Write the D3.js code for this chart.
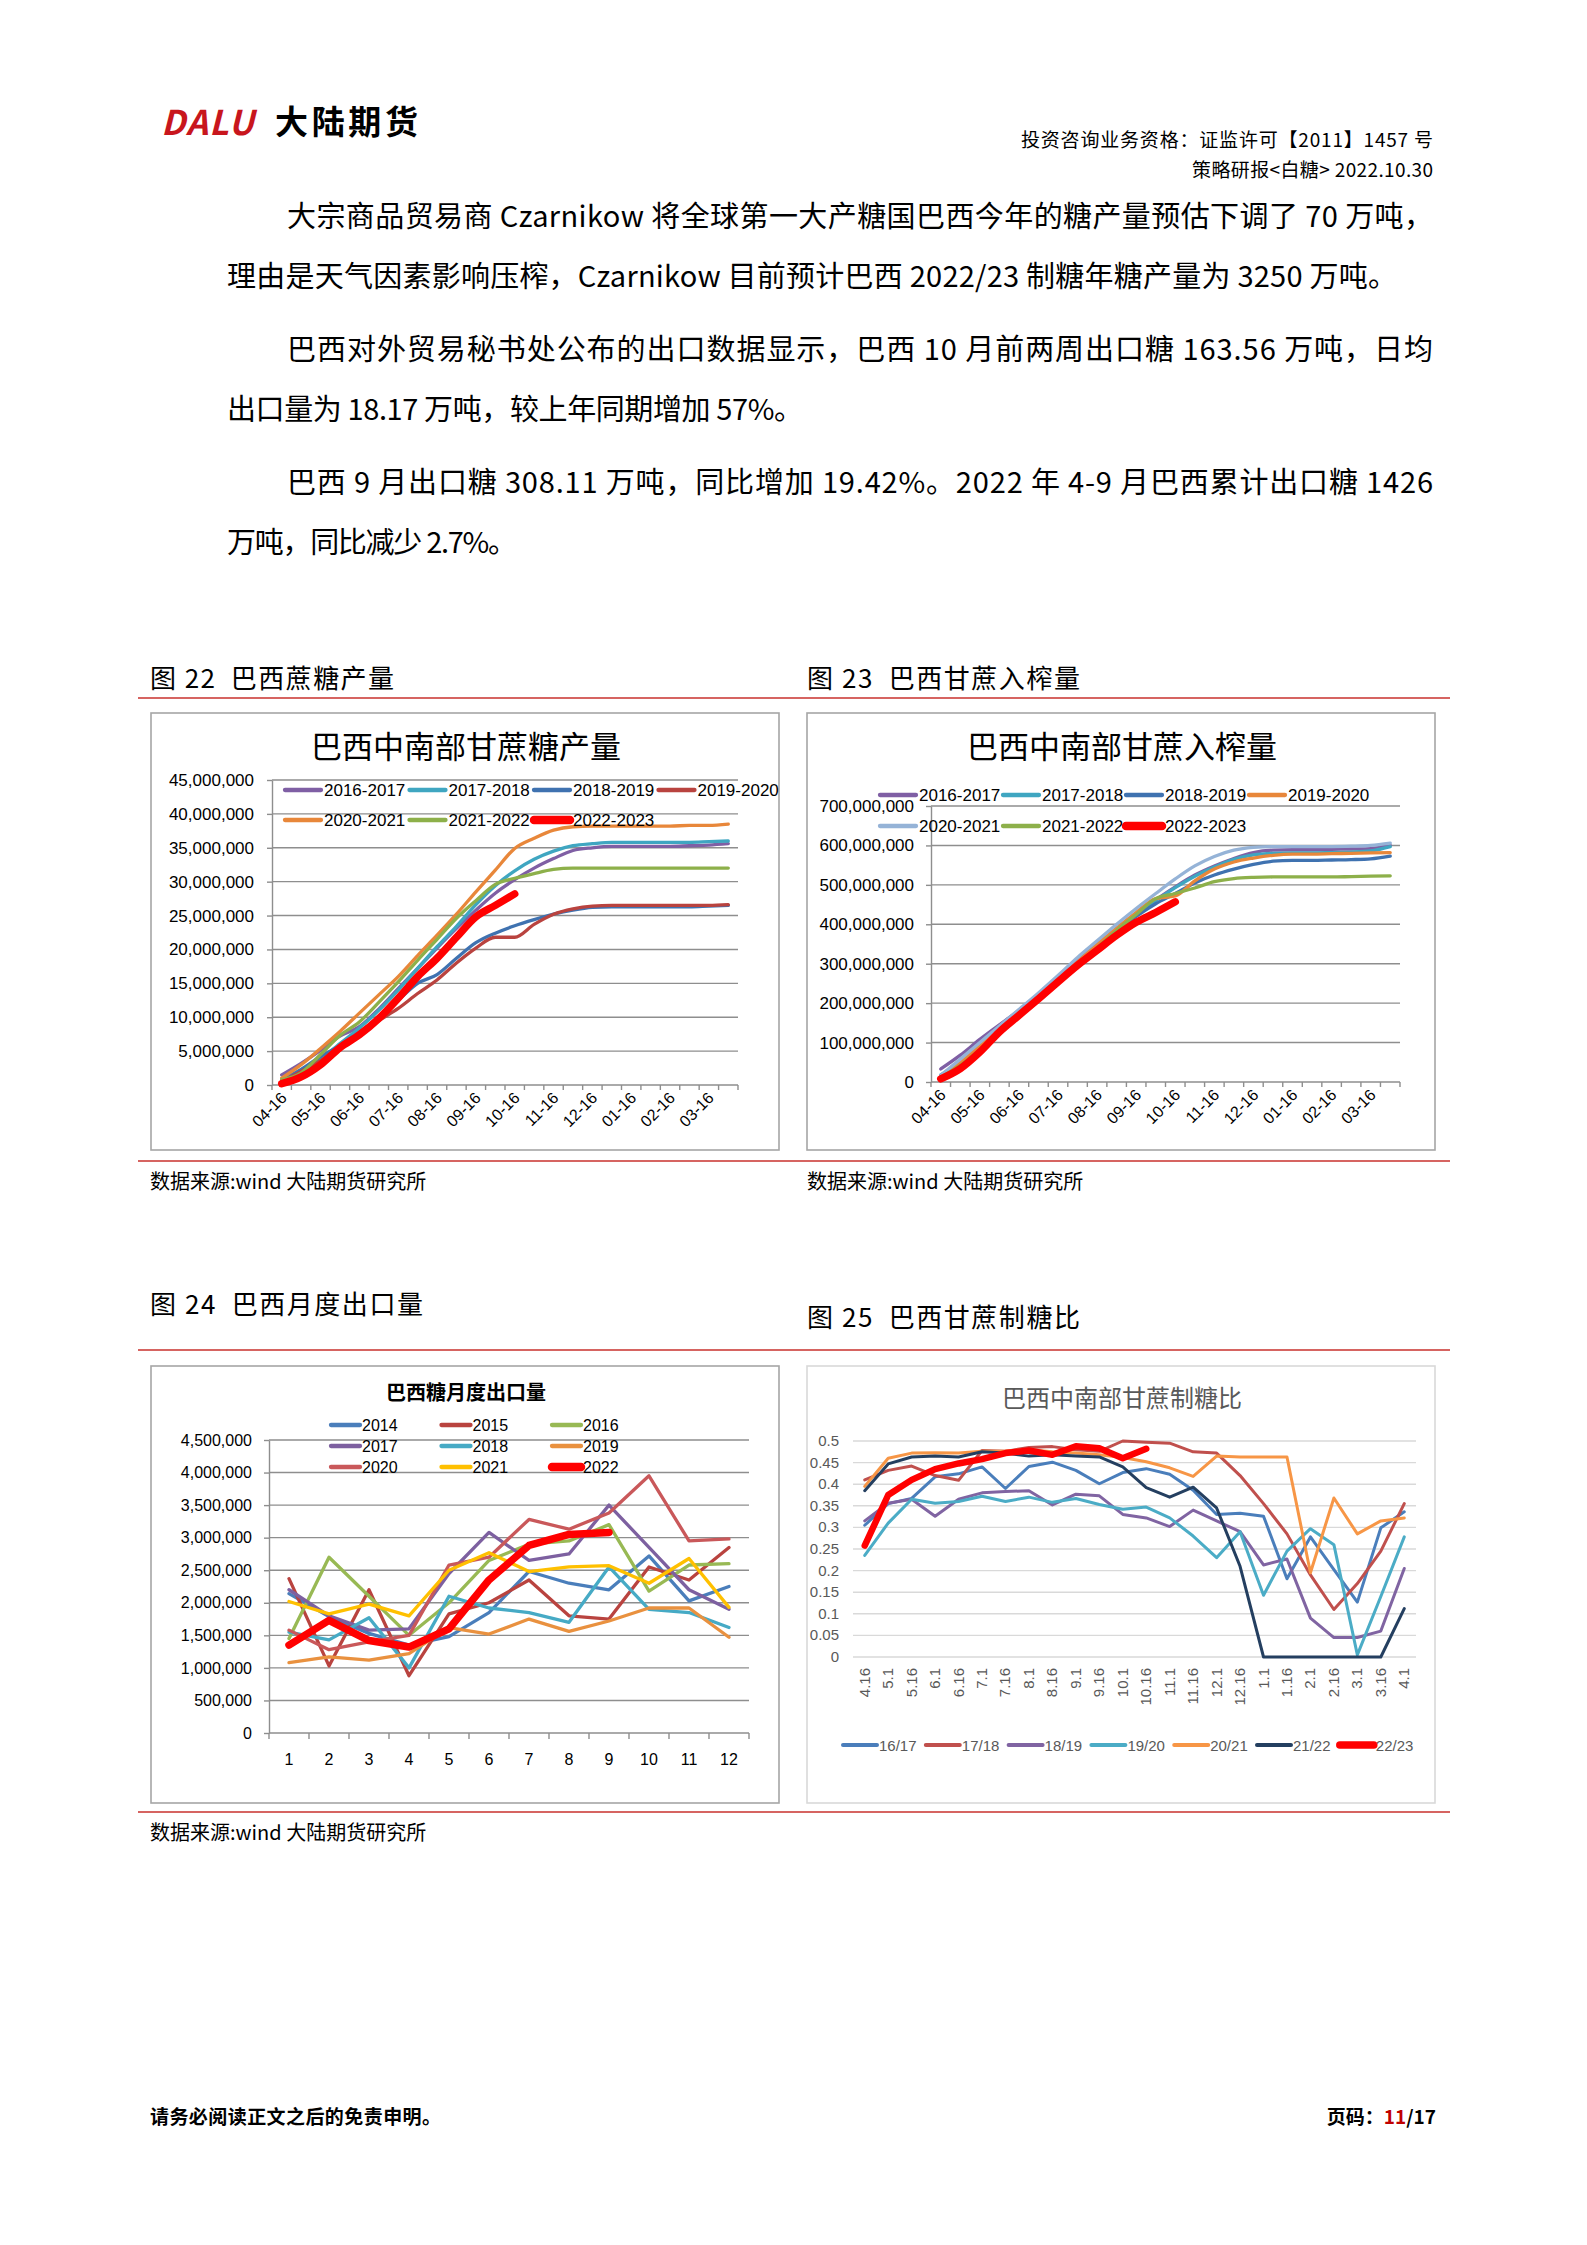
<!DOCTYPE html>
<html lang="zh">
<head>
<meta charset="utf-8">
<title>白糖策略研报 第11页</title>
<script src="https://d3js.org/d3.v7.min.js"></script>
<style>
	body { margin: 0; background: #fff; }
	svg text { font-family: "Noto Sans CJK SC", "Liberation Sans", sans-serif; }
	svg text.num { font-family: "Liberation Sans", "Noto Sans CJK SC", sans-serif; }
</style>
</head>
<body>
<script>
// ---------- data ----------

// half-month categories used by fig 22 / 23
var halfMonths = ["04-16","05-01","05-16","06-01","06-16","07-01","07-16","08-01","08-16","09-01","09-16","10-01",
	"10-16","11-01","11-16","12-01","12-16","01-01","01-16","02-01","02-16","03-01","03-16","04-01"];
var seasons = ["2016-2017","2017-2018","2018-2019","2019-2020","2020-2021","2021-2022","2022-2023"];

// fig 22: cumulative sugar output, million tonnes
var sugar1617 = [1.5, 3.2, 5.1, 7.2, 8.6, 11.2, 14.2, 17.2, 20.2, 23.1, 25.8, 28.3, 30.3, 32.0, 33.4, 34.6, 35.0, 35.2, 35.2, 35.2, 35.2, 35.3, 35.4, 35.6];
var sugar1718 = [0.8, 2.0, 3.9, 6.1, 8.4, 11.0, 14.0, 17.2, 20.4, 23.4, 26.6, 29.4, 31.6, 33.3, 34.5, 35.3, 35.6, 35.8, 35.8, 35.8, 35.8, 35.8, 35.9, 36.0];
var sugar1819 = [0.8, 2.3, 4.2, 5.8, 7.8, 10.0, 12.5, 15.0, 16.3, 18.7, 21.0, 22.4, 23.5, 24.4, 25.2, 25.8, 26.2, 26.3, 26.3, 26.3, 26.3, 26.3, 26.4, 26.5];
var sugar1920 = [0.5, 2.0, 3.6, 5.5, 7.5, 9.5, 11.3, 13.5, 15.5, 18.0, 20.2, 21.8, 21.8, 23.7, 25.2, 26.0, 26.4, 26.5, 26.5, 26.5, 26.5, 26.5, 26.5, 26.6];
var sugar2021 = [1.0, 3.0, 5.4, 7.9, 10.6, 13.3, 16.0, 19.1, 22.1, 25.2, 28.5, 31.7, 34.9, 36.4, 37.6, 38.1, 38.2, 38.2, 38.2, 38.2, 38.2, 38.3, 38.3, 38.5];
var sugar2122 = [0.8, 1.8, 4.5, 7.3, 9.3, 12.2, 15.2, 18.4, 21.5, 24.6, 27.2, 29.6, 30.5, 31.2, 31.8, 32.0, 32.0, 32.0, 32.0, 32.0, 32.0, 32.0, 32.0, 32.0];
var sugar2223 = [0.2, 1.2, 3.0, 5.5, 7.4, 9.8, 12.8, 16.0, 18.7, 21.8, 24.8, 26.5, 28.2];

// fig 23: cumulative cane crush, million tonnes
var cane1617 = [33, 68, 108, 145, 182, 222, 265, 308, 350, 390, 428, 462, 495, 525, 548, 567, 582, 588, 589, 589, 590, 591, 592, 600];
var cane1718 = [18, 52, 92, 132, 172, 214, 257, 302, 345, 387, 425, 460, 493, 522, 545, 565, 576, 580, 581, 581, 582, 583, 586, 597];
var cane1819 = [15, 48, 88, 128, 168, 210, 253, 298, 340, 382, 420, 452, 478, 505, 525, 540, 552, 560, 562, 562, 563, 564, 566, 573];
var cane1920 = [15, 50, 92, 133, 174, 216, 260, 305, 348, 390, 430, 465, 472, 510, 540, 558, 568, 575, 578, 578, 579, 580, 581, 582];
var cane2021 = [17, 58, 100, 142, 184, 226, 270, 316, 358, 400, 440, 478, 515, 548, 572, 588, 595, 597, 597, 597, 597, 598, 600, 606];
var cane2122 = [12, 42, 82, 124, 165, 206, 250, 295, 340, 385, 425, 465, 478, 492, 508, 516, 519, 520, 520, 520, 520, 521, 522, 523];
var cane2223 = [8, 34, 76, 127, 169, 211, 254, 296, 334, 372, 405, 430, 457];

// fig 24: monthly exports, million tonnes
var months = ["1","2","3","4","5","6","7","8","9","10","11","12"];
var exportYears = ["2014","2015","2016","2017","2018","2019","2020","2021","2022"];
var exp2014 = [2.14, 1.79, 1.53, 1.35, 1.48, 1.85, 2.48, 2.30, 2.20, 2.72, 2.03, 2.25];
var exp2015 = [2.37, 1.03, 2.20, 0.88, 1.83, 2.00, 2.35, 1.80, 1.75, 2.55, 2.35, 2.85];
var exp2016 = [1.45, 2.70, 2.10, 1.50, 2.00, 2.65, 2.90, 2.95, 3.20, 2.18, 2.58, 2.60];
var exp2017 = [2.20, 1.80, 1.58, 1.60, 2.45, 3.08, 2.65, 2.75, 3.50, 2.85, 2.20, 1.90];
var exp2018 = [1.55, 1.43, 1.77, 1.00, 2.10, 1.92, 1.85, 1.70, 2.55, 1.90, 1.85, 1.62];
var exp2019 = [1.08, 1.17, 1.12, 1.22, 1.62, 1.52, 1.75, 1.56, 1.72, 1.92, 1.92, 1.47];
var exp2020 = [1.58, 1.28, 1.40, 1.50, 2.58, 2.70, 3.28, 3.13, 3.38, 3.95, 2.95, 2.98];
var exp2021 = [2.02, 1.83, 1.98, 1.80, 2.50, 2.77, 2.48, 2.55, 2.57, 2.30, 2.68, 1.93];
var exp2022 = [1.35, 1.73, 1.42, 1.32, 1.60, 2.35, 2.88, 3.05, 3.08];

// fig 25: sugar mix ratio
var mixDates = ["4.16","5.1","5.16","6.1","6.16","7.1","7.16","8.1","8.16","9.1","9.16","10.1",
	"10.16","11.1","11.16","12.1","12.16","1.1","1.16","2.1","2.16","3.1","3.16","4.1"];
var mixSeasons = ["16/17","17/18","18/19","19/20","20/21","21/22","22/23"];
var mix1617 = [0.305, 0.355, 0.367, 0.417, 0.424, 0.440, 0.390, 0.441, 0.451, 0.432, 0.401, 0.427, 0.436, 0.423, 0.386, 0.330, 0.333, 0.326, 0.181, 0.278, 0.202, 0.127, 0.299, 0.336];
var mix1718 = [0.410, 0.432, 0.442, 0.420, 0.409, 0.478, 0.476, 0.485, 0.487, 0.480, 0.476, 0.500, 0.497, 0.495, 0.475, 0.472, 0.420, 0.355, 0.285, 0.190, 0.110, 0.170, 0.245, 0.355];
var mix1819 = [0.315, 0.356, 0.365, 0.326, 0.365, 0.380, 0.383, 0.385, 0.352, 0.377, 0.373, 0.330, 0.322, 0.302, 0.340, 0.315, 0.290, 0.213, 0.227, 0.090, 0.045, 0.045, 0.060, 0.205];
var mix1920 = [0.235, 0.310, 0.365, 0.356, 0.360, 0.372, 0.360, 0.370, 0.358, 0.367, 0.353, 0.342, 0.347, 0.322, 0.280, 0.230, 0.290, 0.143, 0.245, 0.297, 0.260, 0.005, 0.140, 0.278];
var mix2021 = [0.395, 0.460, 0.472, 0.473, 0.472, 0.476, 0.477, 0.480, 0.475, 0.472, 0.468, 0.462, 0.452, 0.438, 0.418, 0.465, 0.463, 0.463, 0.463, 0.195, 0.368, 0.285, 0.315, 0.322];
var mix2122 = [0.385, 0.447, 0.463, 0.465, 0.463, 0.475, 0.472, 0.465, 0.468, 0.465, 0.463, 0.440, 0.392, 0.370, 0.393, 0.345, 0.210, 0, 0, 0, 0, 0, 0, 0.112];
var mix2223 = [0.258, 0.375, 0.410, 0.435, 0.448, 0.458, 0.472, 0.478, 0.468, 0.488, 0.483, 0.460, 0.482];

// ---------- page ----------
var width = 1587;
var height = 2245;
var svg = d3.select("body").append("svg")
	.attr("width", width)
	.attr("height", height);

function txt(x, y, s, size, opts) {
	opts = opts || {};
	var t = svg.append("text")
		.attr("x", x).attr("y", y)
		.attr("font-size", size)
		.attr("fill", opts.fill || "#000")
		.attr("text-anchor", opts.anchor || "start")
		.style("white-space", "pre")
		.text(s);
	if (opts.weight) t.attr("font-weight", opts.weight);
	if (opts.len) t.attr("textLength", opts.len).attr("lengthAdjust", "spacing");
	return t;
}

// logo
txt(161, 135, "DALU", 34, {fill: "#c8161d", weight: "bold", len: 93}).attr("font-style", "italic")
	.attr("font-family", "Liberation Sans");
txt(275, 134, "大陆期货", 33, {weight: "bold", len: 143});

// header right
txt(1433, 147, "投资咨询业务资格：证监许可【2011】1457 号", 19, {anchor: "end", len: 412});
txt(1433, 177, "策略研报<白糖> 2022.10.30", 19, {anchor: "end", len: 241});

// body text
txt(287, 227, "大宗商品贸易商 Czarnikow 将全球第一大产糖国巴西今年的糖产量预估下调了 70 万吨，", 29, {len: 1146});
txt(227, 287, "理由是天气因素影响压榨，Czarnikow 目前预计巴西 2022/23 制糖年糖产量为 3250 万吨。", 29, {len: 1170});
txt(287, 360, "巴西对外贸易秘书处公布的出口数据显示，巴西 10 月前两周出口糖 163.56 万吨，日均", 29, {len: 1146});
txt(227, 420, "出口量为 18.17 万吨，较上年同期增加 57%。", 29, {len: 576});
txt(287, 493, "巴西 9 月出口糖 308.11 万吨，同比增加 19.42%。2022 年 4-9 月巴西累计出口糖 1426", 29, {len: 1146});
txt(227, 553, "万吨，同比减少 2.7%。", 29, {len: 290});

// figure headings, separators, sources
txt(150, 688, "图 22  巴西蔗糖产量", 26, {len: 244});
txt(807, 688, "图 23  巴西甘蔗入榨量", 26, {len: 273});
txt(150, 1314, "图 24  巴西月度出口量", 26, {len: 273});
txt(807, 1327, "图 25  巴西甘蔗制糖比", 26, {len: 273});

[698, 1161, 1350, 1812].forEach(function(yy) {
	svg.append("line").attr("x1", 138).attr("x2", 1450).attr("y1", yy).attr("y2", yy)
		.attr("stroke", "#c9302c").attr("stroke-width", 1.6);
});
txt(150, 1189, "数据来源:wind 大陆期货研究所", 20);
txt(807, 1189, "数据来源:wind 大陆期货研究所", 20);
txt(150, 1840, "数据来源:wind 大陆期货研究所", 20);

// chart frames
function frame(x, y, w, h, c) {
	svg.append("rect").attr("x", x).attr("y", y).attr("width", w).attr("height", h)
		.attr("fill", "#fff").attr("stroke", c).attr("stroke-width", 1.6);
}
frame(151, 713, 628, 437, "#a6a6a6");
frame(807, 713, 628, 437, "#a6a6a6");
frame(151, 1366, 628, 437, "#a6a6a6");
frame(807, 1366, 628, 437, "#d9d9d9");

// footer
txt(150, 2124, "请务必阅读正文之后的免责申明。", 19, {weight: "bold", len: 291});
var pg = txt(1436, 2124, "页码：", 19, {anchor: "end", weight: "bold"});
pg.append("tspan").attr("fill", "#c00000").text("11");
pg.append("tspan").text("/17");

var bigNum = function(d) { return d3.format(",")(Math.round(d * 1e6)); };

// ---------- fig 22 / 23: cumulative curves ----------
function cumChart(o) {
	var g = svg.append("g");
	var x = d3.scaleBand().domain(halfMonths).range([o.left, o.right]);
	var y = d3.scaleLinear().domain([0, o.max]).range([o.bottom, o.top]);
	var ticks = d3.range(0, o.max + o.step / 2, o.step);
	var cx = function(i) { return x(halfMonths[i]) + x.bandwidth() / 2; };

	g.append("text").attr("x", o.titleX).attr("y", o.titleY)
		.attr("text-anchor", "middle").attr("font-size", 31).text(o.title);

	g.selectAll(".grid").data(ticks.slice(1)).enter().append("line")
		.attr("x1", o.left).attr("x2", o.right)
		.attr("y1", y).attr("y2", y)
		.attr("stroke", "#8e8e8e").attr("stroke-width", 1.4);

	var ya = g.append("g").attr("transform", "translate(" + o.left + ",0)")
		.call(d3.axisLeft(y).tickValues(ticks).tickSize(5).tickSizeOuter(0).tickPadding(o.pad).tickFormat(bigNum));
	ya.select(".domain").attr("stroke", "#8e8e8e").attr("stroke-width", 1.4);
	ya.selectAll(".tick line").attr("stroke", "#8e8e8e").attr("stroke-width", 1.4);
	ya.selectAll(".tick text").attr("class", "num").attr("font-size", 17).attr("fill", "#000");

	// category axis
	g.append("line").attr("x1", o.left).attr("x2", o.right)
		.attr("y1", y(0)).attr("y2", y(0))
		.attr("stroke", "#8e8e8e").attr("stroke-width", 1.4);
	g.selectAll(".xt").data(d3.range(halfMonths.length + 1)).enter().append("line")
		.attr("x1", function(i) { return o.left + i * x.step(); })
		.attr("x2", function(i) { return o.left + i * x.step(); })
		.attr("y1", y(0)).attr("y2", y(0) + 5)
		.attr("stroke", "#8e8e8e").attr("stroke-width", 1.4);
	g.selectAll(".xl").data(halfMonths.filter(function(d, i) { return i % 2 === 0; })).enter().append("text")
		.attr("class", "num")
		.attr("font-size", 16)
		.attr("text-anchor", "end")
		.attr("transform", function(d) {
			return "translate(" + (x(d) + x.bandwidth() / 2 + 6) + "," + (y(0) + 14) + ") rotate(-45)";
		})
		.text(function(d) { return d; });

	var line = d3.line()
		.x(function(d, i) { return cx(i); })
		.y(function(d) { return y(d); })
		.curve(d3.curveMonotoneX);

	o.series.forEach(function(s) {
		g.append("path").attr("d", line(s.values))
			.attr("fill", "none").attr("stroke", s.color)
			.attr("stroke-width", s.w).attr("stroke-linecap", "round").attr("stroke-linejoin", "round");
	});

	// legend, four per row
	o.series.forEach(function(s, i) {
		var lx = o.legX + (i % 4) * o.legDX;
		var ly = o.legY + Math.floor(i / 4) * o.legDY;
		g.append("line").attr("x1", lx).attr("x2", lx + 36).attr("y1", ly).attr("y2", ly)
			.attr("stroke", s.color).attr("stroke-width", s.w + 1).attr("stroke-linecap", "round");
		g.append("text").attr("class", "num").attr("x", lx + 39).attr("y", ly + 6)
			.attr("font-size", 17).text(s.name);
	});
}

cumChart({
	title: "巴西中南部甘蔗糖产量", titleX: 466, titleY: 758,
	left: 272, right: 738, top: 780, bottom: 1085, max: 45, step: 5, pad: 13,
	legX: 285, legY: 790, legDX: 124.5, legDY: 30,
	series: [
		{name: seasons[0], values: sugar1617, color: "#7f5fa4", w: 3.3},
		{name: seasons[1], values: sugar1718, color: "#3fa6c1", w: 3.3},
		{name: seasons[2], values: sugar1819, color: "#3f72b0", w: 3.3},
		{name: seasons[3], values: sugar1920, color: "#b9433f", w: 3.3},
		{name: seasons[4], values: sugar2021, color: "#e8873a", w: 3.3},
		{name: seasons[5], values: sugar2122, color: "#8db04a", w: 3.3},
		{name: seasons[6], values: sugar2223, color: "#ff0000", w: 7.5}
	]
});

cumChart({
	title: "巴西中南部甘蔗入榨量", titleX: 1122, titleY: 758,
	left: 931, right: 1400, top: 806, bottom: 1082, max: 700, step: 100, pad: 12,
	legX: 880, legY: 795, legDX: 123, legDY: 31,
	series: [
		{name: seasons[0], values: cane1617, color: "#7f5fa4", w: 3.3},
		{name: seasons[1], values: cane1718, color: "#3fa6c1", w: 3.3},
		{name: seasons[2], values: cane1819, color: "#3f72b0", w: 3.3},
		{name: seasons[3], values: cane1920, color: "#e8873a", w: 3.3},
		{name: seasons[4], values: cane2021, color: "#95b3d7", w: 3.3},
		{name: seasons[5], values: cane2122, color: "#8db04a", w: 3.3},
		{name: seasons[6], values: cane2223, color: "#ff0000", w: 7.5}
	]
});

// ---------- fig 24: monthly exports ----------
(function() {
	var g = svg.append("g");
	var left = 269, right = 749, top = 1440, bottom = 1733;
	var x = d3.scaleBand().domain(months).range([left, right]);
	var y = d3.scaleLinear().domain([0, 4.5]).range([bottom, top]);
	var ticks = d3.range(0, 4.75, 0.5);
	var series = [
		{name: exportYears[0], values: exp2014, color: "#4a7ebb", w: 3.3},
		{name: exportYears[1], values: exp2015, color: "#b9433f", w: 3.3},
		{name: exportYears[2], values: exp2016, color: "#98b954", w: 3.3},
		{name: exportYears[3], values: exp2017, color: "#7d60a0", w: 3.3},
		{name: exportYears[4], values: exp2018, color: "#46aac5", w: 3.3},
		{name: exportYears[5], values: exp2019, color: "#e9913f", w: 3.3},
		{name: exportYears[6], values: exp2020, color: "#c9585a", w: 3.3},
		{name: exportYears[7], values: exp2021, color: "#ffc000", w: 3.3},
		{name: exportYears[8], values: exp2022, color: "#ff0000", w: 7.5}
	];

	g.append("text").attr("x", 466).attr("y", 1400).attr("text-anchor", "middle")
		.attr("font-size", 20).attr("font-weight", "bold").text("巴西糖月度出口量");

	g.selectAll(".grid").data(ticks.slice(1)).enter().append("line")
		.attr("x1", left).attr("x2", right).attr("y1", y).attr("y2", y)
		.attr("stroke", "#8e8e8e").attr("stroke-width", 1.4);

	var ya = g.append("g").attr("transform", "translate(" + left + ",0)")
		.call(d3.axisLeft(y).tickValues(ticks).tickSize(5).tickSizeOuter(0).tickPadding(12).tickFormat(bigNum));
	ya.select(".domain").attr("stroke", "#8e8e8e").attr("stroke-width", 1.4);
	ya.selectAll(".tick line").attr("stroke", "#8e8e8e").attr("stroke-width", 1.4);
	ya.selectAll(".tick text").attr("class", "num").attr("font-size", 16).attr("fill", "#000");

	g.append("line").attr("x1", left).attr("x2", right).attr("y1", bottom).attr("y2", bottom)
		.attr("stroke", "#8e8e8e").attr("stroke-width", 1.4);
	g.selectAll(".xt").data(d3.range(months.length + 1)).enter().append("line")
		.attr("x1", function(i) { return left + i * x.step(); })
		.attr("x2", function(i) { return left + i * x.step(); })
		.attr("y1", bottom).attr("y2", bottom + 6)
		.attr("stroke", "#8e8e8e").attr("stroke-width", 1.4);
	g.selectAll(".xl").data(months).enter().append("text")
		.attr("class", "num").attr("font-size", 16).attr("text-anchor", "middle")
		.attr("x", function(d) { return x(d) + x.bandwidth() / 2; })
		.attr("y", bottom + 32)
		.text(function(d) { return d; });

	var line = d3.line()
		.x(function(d, i) { return x(months[i]) + x.bandwidth() / 2; })
		.y(function(d) { return y(d); });

	series.forEach(function(s) {
		g.append("path").attr("d", line(s.values))
			.attr("fill", "none").attr("stroke", s.color).attr("stroke-width", s.w)
			.attr("stroke-linejoin", "round").attr("stroke-linecap", "round");
	});

	series.forEach(function(s, i) {
		var lx = 331 + (i % 3) * 110.5;
		var ly = 1425 + Math.floor(i / 3) * 21;
		g.append("line").attr("x1", lx).attr("x2", lx + 29).attr("y1", ly).attr("y2", ly)
			.attr("stroke", s.color).attr("stroke-width", s.w + 1).attr("stroke-linecap", "round");
		g.append("text").attr("class", "num").attr("x", lx + 31).attr("y", ly + 6)
			.attr("font-size", 16).text(s.name);
	});
})();

// ---------- fig 25: sugar mix ----------
(function() {
	var g = svg.append("g");
	var left = 853, right = 1416, top = 1441, bottom = 1657;
	var x = d3.scaleBand().domain(mixDates).range([left, right]);
	var y = d3.scaleLinear().domain([0, 0.5]).range([bottom, top]);
	var ticks = d3.range(0, 0.525, 0.05);
	var series = [
		{name: mixSeasons[0], values: mix1617, color: "#4a7ebb", w: 3},
		{name: mixSeasons[1], values: mix1718, color: "#c0504d", w: 3},
		{name: mixSeasons[2], values: mix1819, color: "#8064a2", w: 3},
		{name: mixSeasons[3], values: mix1920, color: "#4bacc6", w: 3},
		{name: mixSeasons[4], values: mix2021, color: "#f79646", w: 3},
		{name: mixSeasons[5], values: mix2122, color: "#243f60", w: 3},
		{name: mixSeasons[6], values: mix2223, color: "#ff0000", w: 6.5}
	];

	g.append("text").attr("x", 1122).attr("y", 1407).attr("text-anchor", "middle")
		.attr("font-size", 24).attr("fill", "#595959").text("巴西中南部甘蔗制糖比");

	g.selectAll(".grid").data(ticks).enter().append("line")
		.attr("x1", left).attr("x2", right).attr("y1", y).attr("y2", y)
		.attr("stroke", "#d9d9d9").attr("stroke-width", 1.4);

	g.selectAll(".yl").data(ticks).enter().append("text")
		.attr("class", "num").attr("font-size", 15).attr("fill", "#595959")
		.attr("text-anchor", "end").attr("x", 839)
		.attr("y", function(d) { return y(d) + 5; })
		.text(function(d) { return d3.format("")(+d.toFixed(2)); });

	g.selectAll(".xl").data(mixDates).enter().append("text")
		.attr("class", "num").attr("font-size", 15).attr("fill", "#595959")
		.attr("text-anchor", "end")
		.attr("transform", function(d) {
			return "translate(" + (x(d) + x.bandwidth() / 2 + 5) + "," + (bottom + 11) + ") rotate(-90)";
		})
		.text(function(d) { return d; });

	var line = d3.line()
		.x(function(d, i) { return x(mixDates[i]) + x.bandwidth() / 2; })
		.y(function(d) { return y(d); });

	series.forEach(function(s) {
		g.append("path").attr("d", line(s.values))
			.attr("fill", "none").attr("stroke", s.color).attr("stroke-width", s.w)
			.attr("stroke-linejoin", "round").attr("stroke-linecap", "round");
	});

	series.forEach(function(s, i) {
		var lx = 843 + i * 82.8;
		var ly = 1745;
		g.append("line").attr("x1", lx).attr("x2", lx + 34).attr("y1", ly).attr("y2", ly)
			.attr("stroke", s.color).attr("stroke-width", s.w + 1).attr("stroke-linecap", "round");
		g.append("text").attr("class", "num").attr("x", lx + 36).attr("y", ly + 6)
			.attr("font-size", 15).attr("fill", "#595959").text(s.name);
	});
})();
</script>
</body>
</html>
